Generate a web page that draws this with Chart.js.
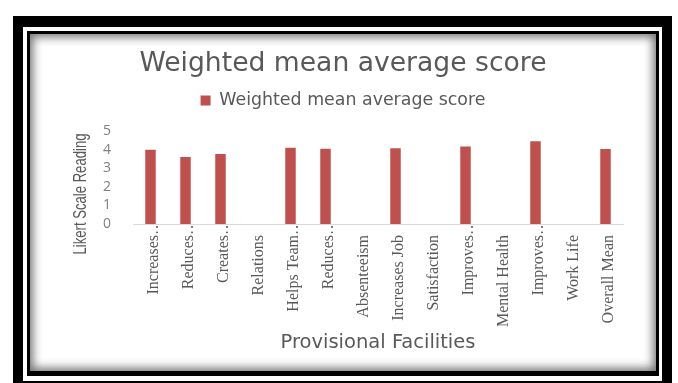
<!DOCTYPE html>
<html>
<head>
<meta charset="utf-8">
<title>Weighted mean average score</title>
<script src="https://cdn.jsdelivr.net/npm/chart.js@4"></script>
<style>
  html, body { margin: 0; padding: 0; background: #fff; }
  body { width: 678px; height: 383px; position: relative; overflow: hidden; }
  .frame {
    position: absolute; left: 13px; top: 16px;
    width: 659px; height: 375px; box-sizing: border-box;
    border: 10px solid #000; border-top-width: 11px;
    padding: 4px 3px 5px 4px; background: #fff;
  }
  .inner {
    width: 100%; height: 100%; box-sizing: border-box;
    border: 3px solid #000; border-bottom-width: 5px;
    box-shadow: inset 0 0 10px 3px rgba(0,0,0,0.55);
    background: #fff;
  }
  #chart { position: absolute; left: 63px; top: 43px; }
</style>
</head>
<body>
<div class="frame"><div class="inner"></div></div>
<canvas id="chart" width="582" height="317"></canvas>
<script>
// categories on the x axis (the blank ones hold the wrapped second lines)
const categories = [
  "Increases\u2026", "Reduces\u2026", "Creates\u2026", "Relations",
  "Helps Team\u2026", "Reduces\u2026", "Absenteeism", "Increases Job",
  "Satisfaction", "Improves\u2026", "Mental Health", "Improves\u2026",
  "Work Life", "Overall Mean"
];
const scores = [4.0, 3.61, 3.77, null, 4.11, 4.06, null, 4.09, null, 4.18, null, 4.46, null, 4.04];
const yTickMin = 0;
const yTickMax = 5;
const yTickStep = 1;

const seriesName = "Weighted mean average score";
const yTitle = "Likert Scale Reading";
const xTitle = "Provisional Facilities";

const grey = "#595959";
const barRed = "#c0504d";

// labels without an ellipsis get an em space so the words line up
const xLabels = categories.map(c => c.endsWith("\u2026") ? c : c + "\u2003");

// left axis title, centred a bit lower than the plot, squeezed like a narrow face
const yTitlePlugin = {
  id: "yTitle",
  afterDraw(chart) {
    const ctx = chart.ctx;
    const a = chart.chartArea;
    ctx.save();
    ctx.translate(18, a.bottom - 30);
    ctx.rotate(-Math.PI / 2);
    ctx.scale(0.69, 1);
    ctx.font = "19px 'Liberation Sans', sans-serif";
    ctx.fillStyle = grey;
    ctx.textAlign = "center";
    ctx.textBaseline = "middle";
    ctx.fillText(yTitle, 0, 0);
    ctx.restore();
  }
};

// extra room under the legend
const legendGap = {
  id: "legendGap",
  beforeInit(chart) {
    const fit = chart.legend.fit;
    chart.legend.fit = function () {
      fit.call(this);
      this.height += 12;
    };
  }
};

new Chart(document.getElementById("chart"), {
  type: "bar",
  data: {
    labels: xLabels,
    datasets: [{
      label: seriesName,
      data: scores,
      backgroundColor: barRed,
      borderWidth: 0,
      barPercentage: 0.3,
      categoryPercentage: 1
    }]
  },
  options: {
    responsive: false,
    animation: false,
    layout: { padding: { top: 0, left: 0, right: 22, bottom: 0 } },
    plugins: {
      tooltip: { enabled: false },
      title: {
        display: true,
        text: seriesName,
        color: grey,
        font: { family: "'DejaVu Sans'", size: 26.6, weight: "normal" },
        padding: { top: 5, bottom: 2 }
      },
      legend: {
        display: true,
        labels: {
          color: grey,
          boxWidth: 10,
          boxHeight: 10,
          padding: 10,
          font: { family: "'DejaVu Sans'", size: 17.4 }
        }
      }
    },
    scales: {
      x: {
        grid: { display: false, drawTicks: false },
        border: { display: true, color: "#d9d9d9", width: 1 },
        ticks: {
          autoSkip: false,
          minRotation: 90,
          maxRotation: 90,
          padding: -5,
          labelOffset: 3,
          color: grey,
          font: { family: "'Liberation Serif'", size: 16 }
        },
        title: {
          display: true,
          text: xTitle,
          color: grey,
          font: { family: "'DejaVu Sans'", size: 19.5 },
          padding: { top: 0, bottom: 5 }
        },
        afterFit(scale) { scale.height = 136; }
      },
      y: {
        min: yTickMin,
        max: yTickMax,
        grid: { display: false, drawTicks: false },
        border: { display: false },
        ticks: {
          autoSkip: false,
          stepSize: yTickStep,
          padding: 22,
          color: "#7f7f7f",
          font: { family: "'Open Sans'", size: 14 }
        },
        afterFit(scale) { scale.width = 70; }
      }
    }
  },
  plugins: [yTitlePlugin, legendGap]
});
</script>
</body>
</html>
